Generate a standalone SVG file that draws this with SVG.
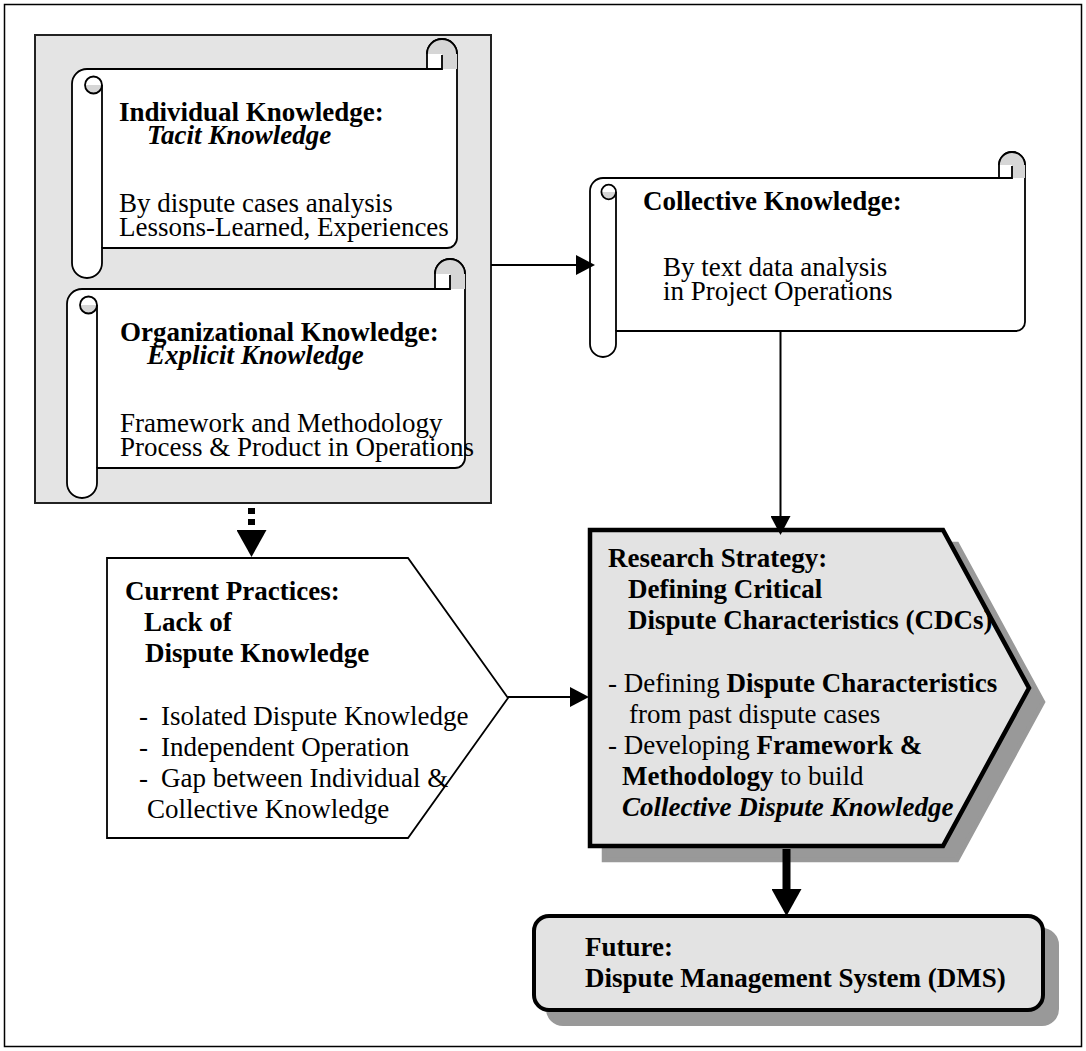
<svg xmlns="http://www.w3.org/2000/svg" width="1086" height="1051" viewBox="0 0 1086 1051">
  <defs>
    <style>
      .t { font-family: "Liberation Serif", "Times New Roman", serif; font-size: 27px; fill: #000; }
      .b { font-weight: bold; }
      .bi { font-weight: bold; font-style: italic; }
      .scroll { fill: #fff; stroke: #000; stroke-width: 1.8; stroke-linejoin: round; }
      .curl { fill: #d6d6d6; stroke: none; }
      .ln { fill: none; stroke: #000; stroke-width: 1.8; }
      .conn { fill: none; stroke: #000; stroke-width: 2; }
    </style>
    <marker id="head-s" markerUnits="userSpaceOnUse" markerWidth="19" markerHeight="20" viewBox="0 0 19 20" refX="0" refY="10" orient="auto">
      <path d="M0,0 L19,10 L0,20 Z" fill="#000"/>
    </marker>
    <marker id="head-l" markerUnits="userSpaceOnUse" markerWidth="27" markerHeight="30" viewBox="0 0 27 30" refX="0" refY="15" orient="auto">
      <path d="M0,0 L27,15 L0,30 Z" fill="#000"/>
    </marker>
  </defs>

  <rect width="1086" height="1051" fill="#fff"/>
  <!-- page frame -->
  <rect id="frame" x="4.5" y="4.5" width="1077" height="1042" fill="none" stroke="#000" stroke-width="1.5"/>

  <!-- shaded container holding the two knowledge scrolls -->
  <g id="knowledge-sources">
    <rect x="35" y="35" width="456" height="468" fill="#e4e4e4" stroke="#222" stroke-width="2"/>
  </g>

  <g id="individual-knowledge">
    <path class="scroll" d="M72,84 A15,15 0 0 1 87,69 L427,69 L427,54 A15,15 0 0 1 457,54 L457,238 A10,10 0 0 1 447,248 L102,248 L102,263 A15,15 0 0 1 72,263 Z"/>
    <path class="curl" d="M427,54 A15,15 0 0 1 457,54 L457,69 L442,69 L442,54 Z"/>
    <path class="ln" d="M427,54 A15,15 0 0 1 457,54 M427,69 L442,69 L442,55"/>
    <path class="curl" d="M85,85 A8.5,8.5 0 0 0 102,85 Z"/>
    <circle class="ln" cx="93.5" cy="85" r="8.5"/>
    <path class="ln" d="M102,248 L102,85"/>
    <text class="t b" x="119" y="121">Individual Knowledge:</text>
    <text class="t bi" x="147" y="144">Tacit Knowledge</text>
    <text class="t" x="119" y="212">By dispute cases analysis</text>
    <text class="t" x="119" y="236">Lessons-Learned, Experiences</text>
  </g>

  <g id="organizational-knowledge">
    <path class="scroll" d="M67,304 A15,15 0 0 1 82,289 L435,289 L435,274 A15,15 0 0 1 465,274 L465,458 A10,10 0 0 1 455,468 L97,468 L97,483 A15,15 0 0 1 67,483 Z"/>
    <path class="curl" d="M435,274 A15,15 0 0 1 465,274 L465,289 L450,289 L450,274 Z"/>
    <path class="ln" d="M435,274 A15,15 0 0 1 465,274 M435,289 L450,289 L450,275"/>
    <path class="curl" d="M80,305 A8.5,8.5 0 0 0 97,305 Z"/>
    <circle class="ln" cx="88.5" cy="305" r="8.5"/>
    <path class="ln" d="M97,468 L97,305"/>
    <text class="t b" x="120" y="341">Organizational Knowledge:</text>
    <text class="t bi" x="147" y="364">Explicit Knowledge</text>
    <text class="t" x="120" y="432">Framework and Methodology</text>
    <text class="t" x="120" y="456">Process &amp; Product in Operations</text>
  </g>

  <g id="collective-knowledge">
    <path class="scroll" d="M590,191 A13,13 0 0 1 603,178 L999,178 L999,165 A13,13 0 0 1 1025,165 L1025,322 A9,9 0 0 1 1016,331 L616,331 L616,344 A13,13 0 0 1 590,344 Z"/>
    <path class="curl" d="M999,165 A13,13 0 0 1 1025,165 L1025,178 L1012,178 L1012,165 Z"/>
    <path class="ln" d="M999,165 A13,13 0 0 1 1025,165 M999,178 L1012,178 L1012,166"/>
    <path class="curl" d="M601.4,192 A7.3,7.3 0 0 0 616,192 Z"/>
    <circle class="ln" cx="608.7" cy="192" r="7.3"/>
    <path class="ln" d="M616,331 L616,192"/>
    <text class="t b" x="643" y="210">Collective Knowledge:</text>
    <text class="t" x="663" y="276">By text data analysis</text>
    <text class="t" x="663" y="300">in Project Operations</text>
  </g>

  <g id="current-practices">
    <path d="M107,558 L408,558 L508,698 L408,838 L107,838 Z" fill="#fff" stroke="#000" stroke-width="1.8" stroke-linejoin="miter"/>
    <text class="t b" x="125" y="600">Current Practices:</text>
    <text class="t b" x="144" y="631">Lack of</text>
    <text class="t b" x="145" y="662">Dispute Knowledge</text>
    <text class="t" x="139" y="725">-</text>
    <text class="t" x="161" y="725">Isolated Dispute Knowledge</text>
    <text class="t" x="139" y="756">-</text>
    <text class="t" x="161" y="756">Independent Operation</text>
    <text class="t" x="139" y="787">-</text>
    <text class="t" x="161" y="787">Gap between Individual &amp;</text>
    <text class="t" x="147" y="818">Collective Knowledge</text>
  </g>

  <g id="research-strategy">
    <path d="M604,544 L957,544 L1043,702 L957,860 L604,860 Z" fill="#999" stroke="#999" stroke-width="4.5"/>
    <path d="M590,530 L943,530 L1029,688 L943,846 L590,846 Z" fill="#e3e3e3" stroke="#000" stroke-width="4.5"/>
    <text class="t b" x="608" y="567">Research Strategy:</text>
    <text class="t b" x="628" y="598">Defining Critical</text>
    <text class="t b" x="628" y="629">Dispute Characteristics (CDCs)</text>
    <text class="t" x="608" y="692">- Defining <tspan class="b">Dispute Characteristics</tspan></text>
    <text class="t" x="629" y="723">from past dispute cases</text>
    <text class="t" x="608" y="754">- Developing <tspan class="b">Framework &amp;</tspan></text>
    <text class="t" x="622" y="785"><tspan class="b">Methodology</tspan> to build</text>
    <text class="t bi" x="622" y="816">Collective Dispute Knowledge</text>
  </g>

  <g id="future-dms">
    <rect x="548" y="930" width="509" height="94" rx="15" fill="#999" stroke="#999" stroke-width="4"/>
    <rect x="534" y="916" width="509" height="94" rx="15" fill="#e3e3e3" stroke="#000" stroke-width="4"/>
    <text class="t b" x="585" y="956">Future:</text>
    <text class="t b" x="585" y="987">Dispute Management System (DMS)</text>
  </g>

  <g id="connectors">
    <line class="conn" x1="491" y1="265" x2="576" y2="265" marker-end="url(#head-s)"/>
    <line class="conn" x1="780.5" y1="331" x2="780.5" y2="516" marker-end="url(#head-s)"/>
    <line class="conn" x1="508" y1="697" x2="570" y2="697" marker-end="url(#head-s)"/>
    <line fill="none" stroke="#000" stroke-width="7" stroke-dasharray="6 5" x1="251.5" y1="508" x2="251.5" y2="530" marker-end="url(#head-l)"/>
    <line fill="none" stroke="#000" stroke-width="8" x1="786.5" y1="849" x2="786.5" y2="889" marker-end="url(#head-l)"/>
  </g>
</svg>
